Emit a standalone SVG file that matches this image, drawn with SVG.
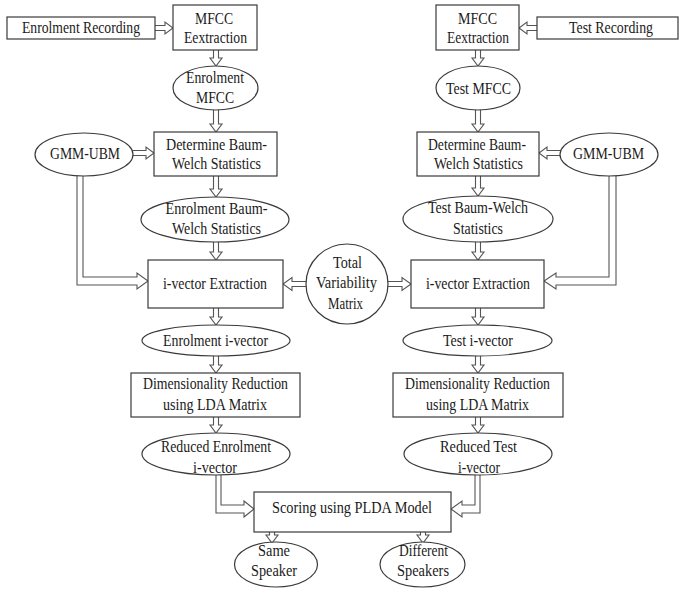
<svg xmlns="http://www.w3.org/2000/svg" width="681" height="589" viewBox="0 0 681 589">
<style>
.n{fill:#fff;stroke:#3a3a3a;stroke-width:1.2}
.a{fill:#fff;stroke:#555;stroke-width:1.1;stroke-linejoin:miter}
text{font-family:"Liberation Serif","Times New Roman",serif;font-size:16px;fill:#1a1a1a;text-anchor:middle}
</style>
<rect width="681" height="589" fill="#fff"/>
<g id="connectors">
<path class="a" d="M153,25.5 L165,25.5 L165,22 L173,28 L165,34 L165,30.5 L153,30.5"/>
<path class="a" d="M539,25.5 L527,25.5 L527,22 L519,28 L527,34 L527,30.5 L539,30.5"/>
<path class="a" d="M131,150.5 L146,150.5 L146,147 L154,153 L146,159 L146,155.5 L131,155.5"/>
<path class="a" d="M562,150.5 L547,150.5 L547,147 L539,153 L547,159 L547,155.5 L562,155.5"/>
<path class="a" d="M308,281.5 L292,281.5 L292,277.5 L283,284 L292,290.5 L292,286.5 L308,286.5"/>
<path class="a" d="M386,281.5 L402,281.5 L402,277.5 L411,284 L402,290.5 L402,286.5 L386,286.5"/>
<path class="a" d="M213.5,48 L213.5,58 L210,58 L216,66 L222,58 L218.5,58 L218.5,48"/>
<path class="a" d="M213.5,108 L213.5,124 L210,124 L216,132 L222,124 L218.5,124 L218.5,108"/>
<path class="a" d="M213.5,174 L213.5,189 L210,189 L216,197 L222,189 L218.5,189 L218.5,174"/>
<path class="a" d="M213.5,240 L213.5,252 L210,252 L216,260 L222,252 L218.5,252 L218.5,240"/>
<path class="a" d="M213.5,306 L213.5,317 L210,317 L216,325 L222,317 L218.5,317 L218.5,306"/>
<path class="a" d="M213.5,354 L213.5,365 L210,365 L216,373 L222,365 L218.5,365 L218.5,354"/>
<path class="a" d="M213.5,415 L213.5,425 L210,425 L216,433 L222,425 L218.5,425 L218.5,415"/>
<path class="a" d="M475.5,48 L475.5,58 L472,58 L478,66 L484,58 L480.5,58 L480.5,48"/>
<path class="a" d="M475.5,108 L475.5,124 L472,124 L478,132 L484,124 L480.5,124 L480.5,108"/>
<path class="a" d="M475.5,174 L475.5,188 L472,188 L478,196 L484,188 L480.5,188 L480.5,174"/>
<path class="a" d="M475.5,240 L475.5,252 L472,252 L478,260 L484,252 L480.5,252 L480.5,240"/>
<path class="a" d="M475.5,306 L475.5,317 L472,317 L478,325 L484,317 L480.5,317 L480.5,306"/>
<path class="a" d="M475.5,354 L475.5,365 L472,365 L478,373 L484,365 L480.5,365 L480.5,354"/>
<path class="a" d="M475.5,415 L475.5,425 L472,425 L478,433 L484,425 L480.5,425 L480.5,415"/>
<path class="a" d="M269.5,530 L269.5,535 L266,535 L272,543 L278,535 L274.5,535 L274.5,530"/>
<path class="a" d="M420.5,530 L420.5,535 L417,535 L423,543 L429,535 L425.5,535 L425.5,530"/>
<path class="a" d="M77,170 L77,285 L137,285 L137,289 L148,281 L137,273 L137,277 L83,277 L83,170"/>
<path class="a" d="M616,170 L616,285 L556,285 L556,289 L544,281 L556,273 L556,277 L609,277 L609,170"/>
<path class="a" d="M216,470 L216,513 L244,513 L244,517 L254,509 L244,501 L244,505 L221,505 L221,470"/>
<path class="a" d="M480,470 L480,513 L462,513 L462,517 L451,509 L462,501 L462,505 L475,505 L475,470"/>
</g>
<g id="enrolment-recording"><rect class="n" x="7" y="17" width="148" height="22"/><text x="81" y="33" textLength="118" lengthAdjust="spacingAndGlyphs">Enrolment Recording</text></g>
<g id="mfcc-extraction-left"><rect class="n" x="173" y="5" width="84" height="45"/><text x="214" y="24" textLength="38" lengthAdjust="spacingAndGlyphs">MFCC</text><text x="215.5" y="43" textLength="63" lengthAdjust="spacingAndGlyphs">Eextraction</text></g>
<g id="mfcc-extraction-right"><rect class="n" x="436" y="5" width="83" height="45"/><text x="477.5" y="24" textLength="39" lengthAdjust="spacingAndGlyphs">MFCC</text><text x="478" y="43" textLength="62" lengthAdjust="spacingAndGlyphs">Eextraction</text></g>
<g id="test-recording"><rect class="n" x="537" y="17" width="141" height="22"/><text x="611" y="33" textLength="84" lengthAdjust="spacingAndGlyphs">Test Recording</text></g>
<g id="enrolment-mfcc"><ellipse class="n" cx="215.5" cy="88" rx="42.5" ry="22"/><text x="215" y="83" textLength="58" lengthAdjust="spacingAndGlyphs">Enrolment</text><text x="215" y="103" textLength="38" lengthAdjust="spacingAndGlyphs">MFCC</text></g>
<g id="test-mfcc"><ellipse class="n" cx="478" cy="88" rx="42" ry="22"/><text x="478.5" y="94" textLength="65" lengthAdjust="spacingAndGlyphs">Test MFCC</text></g>
<g id="gmm-ubm-left"><ellipse class="n" cx="84" cy="154.5" rx="49" ry="21.5"/><text x="85" y="159" textLength="70" lengthAdjust="spacingAndGlyphs">GMM-UBM</text></g>
<g id="gmm-ubm-right"><ellipse class="n" cx="609" cy="154.5" rx="49" ry="21.5"/><text x="608.5" y="159" textLength="71" lengthAdjust="spacingAndGlyphs">GMM-UBM</text></g>
<g id="baum-welch-left"><rect class="n" x="154" y="132" width="123" height="44"/><text x="216.5" y="150" textLength="101" lengthAdjust="spacingAndGlyphs">Determine Baum-</text><text x="216.5" y="169" textLength="89" lengthAdjust="spacingAndGlyphs">Welch Statistics</text></g>
<g id="baum-welch-right"><rect class="n" x="417" y="132" width="122" height="44"/><text x="477" y="150" textLength="98" lengthAdjust="spacingAndGlyphs">Determine Baum-</text><text x="478.5" y="169" textLength="89" lengthAdjust="spacingAndGlyphs">Welch Statistics</text></g>
<g id="enrolment-bw-stats"><ellipse class="n" cx="215" cy="219.5" rx="74" ry="22.5"/><text x="216.5" y="214" textLength="102" lengthAdjust="spacingAndGlyphs">Enrolment Baum-</text><text x="216.5" y="234" textLength="89" lengthAdjust="spacingAndGlyphs">Welch Statistics</text></g>
<g id="test-bw-stats"><ellipse class="n" cx="478" cy="219" rx="75" ry="23"/><text x="478" y="213" textLength="100" lengthAdjust="spacingAndGlyphs">Test Baum-Welch</text><text x="478" y="234" textLength="50" lengthAdjust="spacingAndGlyphs">Statistics</text></g>
<g id="ivector-extraction-left"><rect class="n" x="148" y="260" width="135" height="48"/><text x="215" y="289" textLength="104" lengthAdjust="spacingAndGlyphs">i-vector Extraction</text></g>
<g id="ivector-extraction-right"><rect class="n" x="411" y="260" width="133" height="48"/><text x="478" y="289" textLength="104" lengthAdjust="spacingAndGlyphs">i-vector Extraction</text></g>
<g id="total-variability-matrix"><ellipse class="n" cx="347" cy="284" rx="41" ry="40"/><text x="347.5" y="268" textLength="29" lengthAdjust="spacingAndGlyphs">Total</text><text x="346.5" y="288" textLength="61" lengthAdjust="spacingAndGlyphs">Variability</text><text x="345.5" y="309" textLength="35" lengthAdjust="spacingAndGlyphs">Matrix</text></g>
<g id="enrolment-ivector"><ellipse class="n" cx="216" cy="340.5" rx="74" ry="15.5"/><text x="215.5" y="346" textLength="105" lengthAdjust="spacingAndGlyphs">Enrolment i-vector</text></g>
<g id="test-ivector"><ellipse class="n" cx="477.5" cy="340.5" rx="74.5" ry="15.5"/><text x="478" y="346" textLength="70" lengthAdjust="spacingAndGlyphs">Test i-vector</text></g>
<g id="lda-left"><rect class="n" x="131" y="373" width="169" height="44"/><text x="215.5" y="389" textLength="145" lengthAdjust="spacingAndGlyphs">Dimensionality Reduction</text><text x="215" y="410" textLength="104" lengthAdjust="spacingAndGlyphs">using LDA Matrix</text></g>
<g id="lda-right"><rect class="n" x="393" y="373" width="170" height="44"/><text x="477.5" y="389" textLength="145" lengthAdjust="spacingAndGlyphs">Dimensionality Reduction</text><text x="477.5" y="410" textLength="103" lengthAdjust="spacingAndGlyphs">using LDA Matrix</text></g>
<g id="reduced-enrolment-ivector"><ellipse class="n" cx="216" cy="454" rx="74" ry="21"/><text x="216" y="452" textLength="110" lengthAdjust="spacingAndGlyphs">Reduced Enrolment</text><text x="215" y="473" textLength="44" lengthAdjust="spacingAndGlyphs">i-vector</text></g>
<g id="reduced-test-ivector"><ellipse class="n" cx="478" cy="454" rx="74" ry="21"/><text x="478.5" y="452" textLength="77" lengthAdjust="spacingAndGlyphs">Reduced Test</text><text x="479" y="473" textLength="42" lengthAdjust="spacingAndGlyphs">i-vector</text></g>
<g id="plda-scoring"><rect class="n" x="254" y="492" width="197" height="40"/><text x="352" y="513" textLength="160" lengthAdjust="spacingAndGlyphs">Scoring using PLDA Model</text></g>
<g id="same-speaker"><ellipse class="n" cx="276" cy="564.5" rx="41.5" ry="22.5"/><text x="274" y="556" textLength="32" lengthAdjust="spacingAndGlyphs">Same</text><text x="274" y="576" textLength="46" lengthAdjust="spacingAndGlyphs">Speaker</text></g>
<g id="different-speakers"><ellipse class="n" cx="422.5" cy="564.5" rx="42.5" ry="22.5"/><text x="423.5" y="556" textLength="49" lengthAdjust="spacingAndGlyphs">Different</text><text x="423" y="576" textLength="52" lengthAdjust="spacingAndGlyphs">Speakers</text></g>
</svg>
